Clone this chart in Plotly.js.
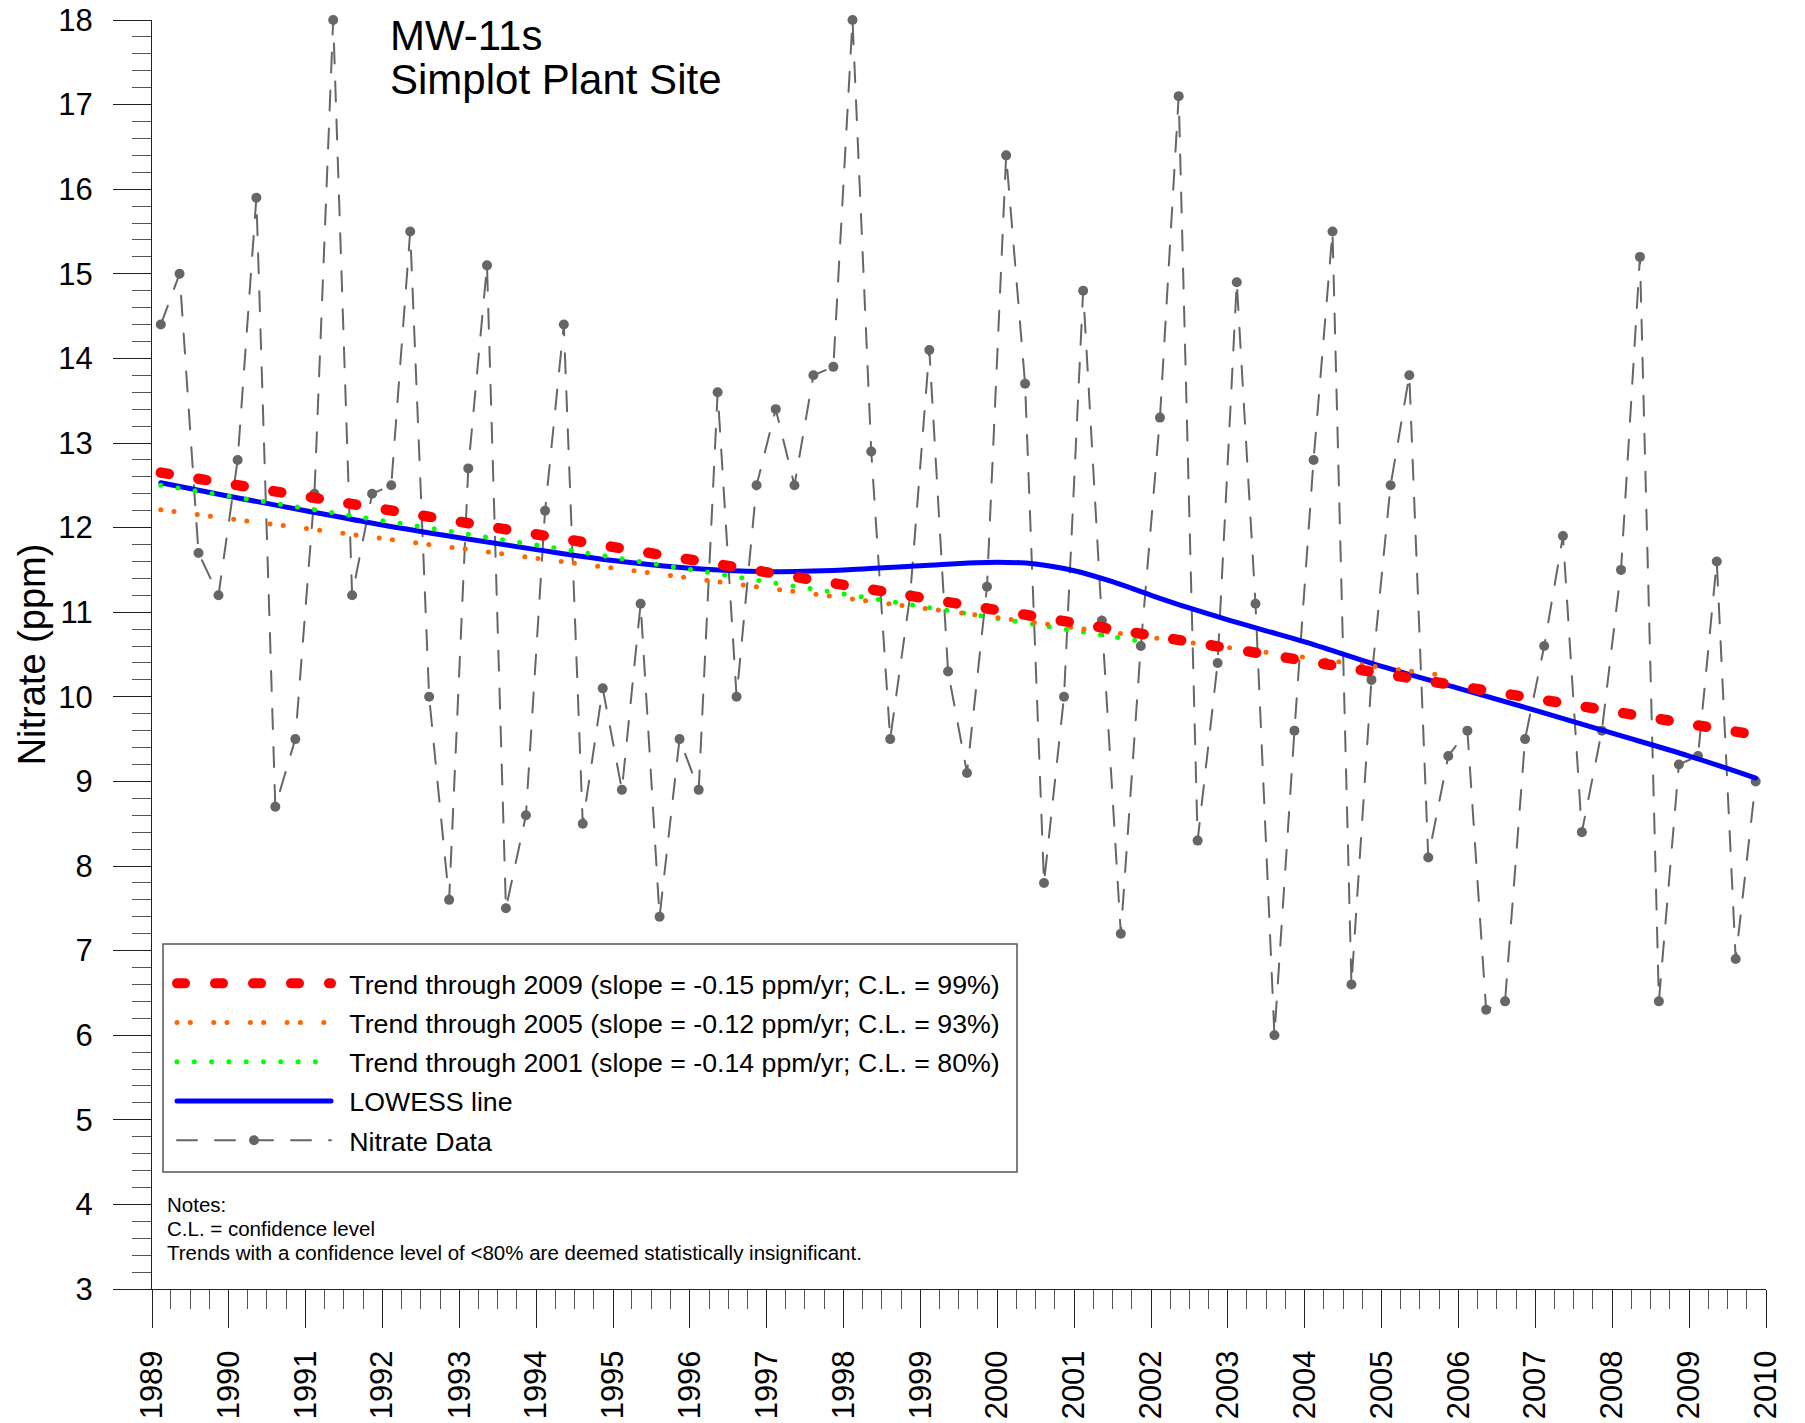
<!DOCTYPE html>
<html>
<head>
<meta charset="utf-8">
<script src="https://cdn.plot.ly/plotly-3.0.1.min.js"></script>
<style>
html,body{margin:0;padding:0;background:#ffffff;}
#chart{width:1805px;height:1423px;}
path.js-line{stroke-linecap:round !important;}
</style>
</head>
<body>
<div id="chart"></div>
<script>
// ---------- data ----------
const sampleDates = [
 '1989-02-12','1989-05-12','1989-08-10','1989-11-13',
 '1990-02-12','1990-05-12','1990-08-10','1990-11-13',
 '1991-02-12','1991-05-12','1991-08-10','1991-11-13',
 '1992-02-12','1992-05-12','1992-08-10','1992-11-13',
 '1993-02-12','1993-05-12','1993-08-10','1993-11-13',
 '1994-02-12','1994-05-12','1994-08-10','1994-11-13',
 '1995-02-12','1995-05-12','1995-08-10','1995-11-13',
 '1996-02-12','1996-05-12','1996-08-10','1996-11-13',
 '1997-02-12','1997-05-12','1997-08-10','1997-11-13',
 '1998-02-12','1998-05-12','1998-08-10','1998-11-13',
 '1999-02-12','1999-05-12','1999-08-10','1999-11-13',
 '2000-02-12','2000-05-12','2000-08-10','2000-11-13',
 '2001-02-12','2001-05-12','2001-08-10','2001-11-13',
 '2002-02-12','2002-05-12','2002-08-10','2002-11-13',
 '2003-02-12','2003-05-12','2003-08-10','2003-11-13',
 '2004-02-12','2004-05-12','2004-08-10','2004-11-13',
 '2005-02-12','2005-05-12','2005-08-10','2005-11-13',
 '2006-02-12','2006-05-12','2006-08-10','2006-11-13',
 '2007-02-12','2007-05-12','2007-08-10','2007-11-13',
 '2008-02-12','2008-05-12','2008-08-10','2008-11-13',
 '2009-02-12','2009-05-12','2009-08-10','2009-11-13'
];
const nitrateValues = [
 14.4, 15.0, 11.7, 11.2,
 12.8, 15.9,  8.7,  9.5,
 12.4, 18.0, 11.2, 12.4,
 12.5, 15.5, 10.0,  7.6,
 12.7, 15.1,  7.5,  8.6,
 12.2, 14.4,  8.5, 10.1,
  8.9, 11.1,  7.4,  9.5,
  8.9, 13.6, 10.0, 12.5,
 13.4, 12.5, 13.8, 13.9,
 18.0, 12.9,  9.5, 11.2,
 14.1, 10.3,  9.1, 11.3,
 16.4, 13.7,  7.8, 10.0,
 14.8, 10.9,  7.2, 10.6,
 13.3, 17.1,  8.3, 10.4,
 14.9, 11.1,  6.0,  9.6,
 12.8, 15.5,  6.6, 10.2,
 12.5, 13.8,  8.1,  9.3,
  9.6,  6.3,  6.4,  9.5,
 10.6, 11.9,  8.4,  9.6,
 11.5, 15.2,  6.4,  9.2,
  9.3, 11.6,  6.9,  9.0
];
const trend2009Dates  = ['1989-02-12', '2009-11-13'];
const trend2009Values = [12.65, 9.55];
const trend2005Dates  = ['1989-02-12', '2005-11-05'];
const trend2005Values = [12.21, 10.25];
const trend2001Dates  = ['1989-02-12', '2001-11-05'];
const trend2001Values = [12.50, 10.66];
const lowessDates = ['1989-02-12','1990-01-01','1991-01-01','1992-01-01','1993-01-01','1994-01-01',
 '1995-01-01','1996-01-01','1997-01-01','1998-01-01','1999-01-01','2000-01-01','2000-07-01',
 '2001-01-01','2001-07-01','2002-01-01','2002-07-01','2003-01-01','2003-07-01','2004-01-01',
 '2005-01-01','2006-01-01','2007-01-01','2008-01-01','2009-01-01','2009-11-13'];
const lowessValues = [12.53,12.37,12.20,12.03,11.88,11.74,
 11.61,11.52,11.48,11.50,11.55,11.59,11.57,
 11.49,11.36,11.20,11.05,10.91,10.78,10.65,
 10.36,10.10,9.84,9.57,9.30,9.04];

const yearTickVals = ['1989-01-01','1990-01-01','1991-01-01','1992-01-01','1993-01-01','1994-01-01',
 '1995-01-01','1996-01-01','1997-01-01','1998-01-01','1999-01-01','2000-01-01','2001-01-01',
 '2002-01-01','2003-01-01','2004-01-01','2005-01-01','2006-01-01','2007-01-01','2008-01-01',
 '2009-01-01','2010-01-01'];
const yearTickText = ['1989','1990','1991','1992','1993','1994','1995','1996','1997','1998','1999',
 '2000','2001','2002','2003','2004','2005','2006','2007','2008','2009','2010'];
const yTickVals = [3,4,5,6,7,8,9,10,11,12,13,14,15,16,17,18];

const legendNames = [
 'Trend through 2009 (slope = -0.15 ppm/yr; C.L. = 99%)',
 'Trend through 2005 (slope = -0.12 ppm/yr; C.L. = 93%)',
 'Trend through 2001 (slope = -0.14 ppm/yr; C.L. = 80%)',
 'LOWESS line',
 'Nitrate Data'
];
const titleLines = ['MW-11s', 'Simplot Plant Site'];
const noteLines = ['Notes:', 'C.L. = confidence level',
 'Trends with a confidence level of <80% are deemed statistically insignificant.'];

// ---------- layout helpers ----------
const W = 1805, H = 1423;
const M = {l: 152, r: 39, t: 20, b: 134};
const PW = W - M.l - M.r, PH = H - M.t - M.b;
const px = p => (p - M.l) / PW;          // pixel x -> paper x
const py = p => (H - M.b - p) / PH;      // pixel y -> paper y
const FONT = 'Liberation Sans, Arial, Helvetica, sans-serif';
const GRAY = '#666666';
const GAP = '\u2002';                    // small gap between legend symbol and text

// ---------- traces (drawn bottom to top; legend ordered by legendrank) ----------
const traces = [
 {x: sampleDates, y: nitrateValues, name: GAP + legendNames[4], legendgroup: 'g5', legendrank: 5,
  type: 'scatter', mode: 'lines+markers',
  line: {color: GRAY, width: 2, dash: '20px,18px'}, marker: {color: GRAY, size: 10},
  cliponaxis: false},
 {x: lowessDates, y: lowessValues, name: GAP + legendNames[3], legendgroup: 'g4', legendrank: 4,
  type: 'scatter', mode: 'lines',
  line: {color: '#0000FF', width: 5, shape: 'spline', smoothing: 1}},
 {x: trend2001Dates, y: trend2001Values, name: GAP + legendNames[2], legendgroup: 'g3', legendrank: 3,
  type: 'scatter', mode: 'lines',
  line: {color: '#00FF00', width: 5, dash: '0px,17.3px'}},
 {x: trend2005Dates, y: trend2005Values, name: GAP + legendNames[1], legendgroup: 'g2', legendrank: 2,
  type: 'scatter', mode: 'lines',
  line: {color: '#FF6600', width: 5, dash: '0px,13.3px,0px,23.4px'}},
 {x: trend2009Dates, y: trend2009Values, name: GAP + legendNames[0], legendgroup: 'g1', legendrank: 1,
  type: 'scatter', mode: 'lines',
  line: {color: '#FF0000', width: 10.5, dash: '8px,30px'}}
];

const noteFont = {family: FONT, size: 20.5, color: '#000'};
const annotations = [
 {text: titleLines[0], x: px(388), y: py(35), xref: 'paper', yref: 'paper', xanchor: 'left', yanchor: 'middle',
  showarrow: false, font: {family: FONT, size: 42, color: '#000'}},
 {text: titleLines[1], x: px(388), y: py(80), xref: 'paper', yref: 'paper', xanchor: 'left', yanchor: 'middle',
  showarrow: false, font: {family: FONT, size: 42, color: '#000'}},
 {text: noteLines[0], x: px(165), y: py(1204), xref: 'paper', yref: 'paper', xanchor: 'left', yanchor: 'middle',
  showarrow: false, font: noteFont},
 {text: noteLines[1], x: px(165), y: py(1228), xref: 'paper', yref: 'paper', xanchor: 'left', yanchor: 'middle',
  showarrow: false, font: noteFont},
 {text: noteLines[2], x: px(165), y: py(1252), xref: 'paper', yref: 'paper', xanchor: 'left', yanchor: 'middle',
  showarrow: false, font: noteFont}
];

const shapes = [
 {type: 'rect', xref: 'paper', yref: 'paper', x0: px(163), x1: px(1017), y0: py(1172), y1: py(944),
  line: {color: '#555555', width: 1.5}, fillcolor: 'rgba(0,0,0,0)', layer: 'below'}
];

const layout = {
 width: W, height: H,
 margin: M,
 paper_bgcolor: '#ffffff', plot_bgcolor: '#ffffff',
 font: {family: FONT, color: '#000'},
 showlegend: true,
 legend: {x: px(172), y: py(959.5), xanchor: 'left', yanchor: 'top', bgcolor: 'rgba(0,0,0,0)',
  borderwidth: 0, font: {family: FONT, size: 26.7, color: '#000'}, itemwidth: 154,
  traceorder: 'grouped', tracegroupgap: 1.5},
 xaxis: {
  type: 'date', range: ['1989-01-01', '2010-01-01'],
  tickmode: 'array', tickvals: yearTickVals, ticktext: yearTickText, tickangle: -90,
  ticks: 'outside', ticklen: 38, tickwidth: 1, tickcolor: '#222',
  ticklabelstandoff: 10,
  minor: {dtick: 'M3', tick0: '1989-01-01', ticks: 'outside', ticklen: 19, tickwidth: 1, tickcolor: '#555', showgrid: false},
  showline: true, linecolor: '#222', linewidth: 1, mirror: false,
  showgrid: false, zeroline: false, fixedrange: true,
  tickfont: {family: FONT, size: 31, color: '#000'}
 },
 yaxis: {
  range: [3, 18], tickmode: 'array', tickvals: yTickVals,
  ticks: 'outside', ticklen: 38, tickwidth: 1, tickcolor: '#222',
  ticklabelstandoff: 14,
  minor: {dtick: 0.2, tick0: 3, ticks: 'outside', ticklen: 19, tickwidth: 1, tickcolor: '#555', showgrid: false},
  showline: true, linecolor: '#222', linewidth: 1, mirror: false,
  showgrid: false, zeroline: false, fixedrange: true,
  tickfont: {family: FONT, size: 31, color: '#000'},
  title: {text: 'Nitrate (ppm)', font: {family: FONT, size: 38, color: '#000'}, standoff: 1}
 },
 annotations: annotations,
 shapes: shapes
};

Plotly.newPlot('chart', traces, layout, {staticPlot: true, displayModeBar: false});
</script>
</body>
</html>
